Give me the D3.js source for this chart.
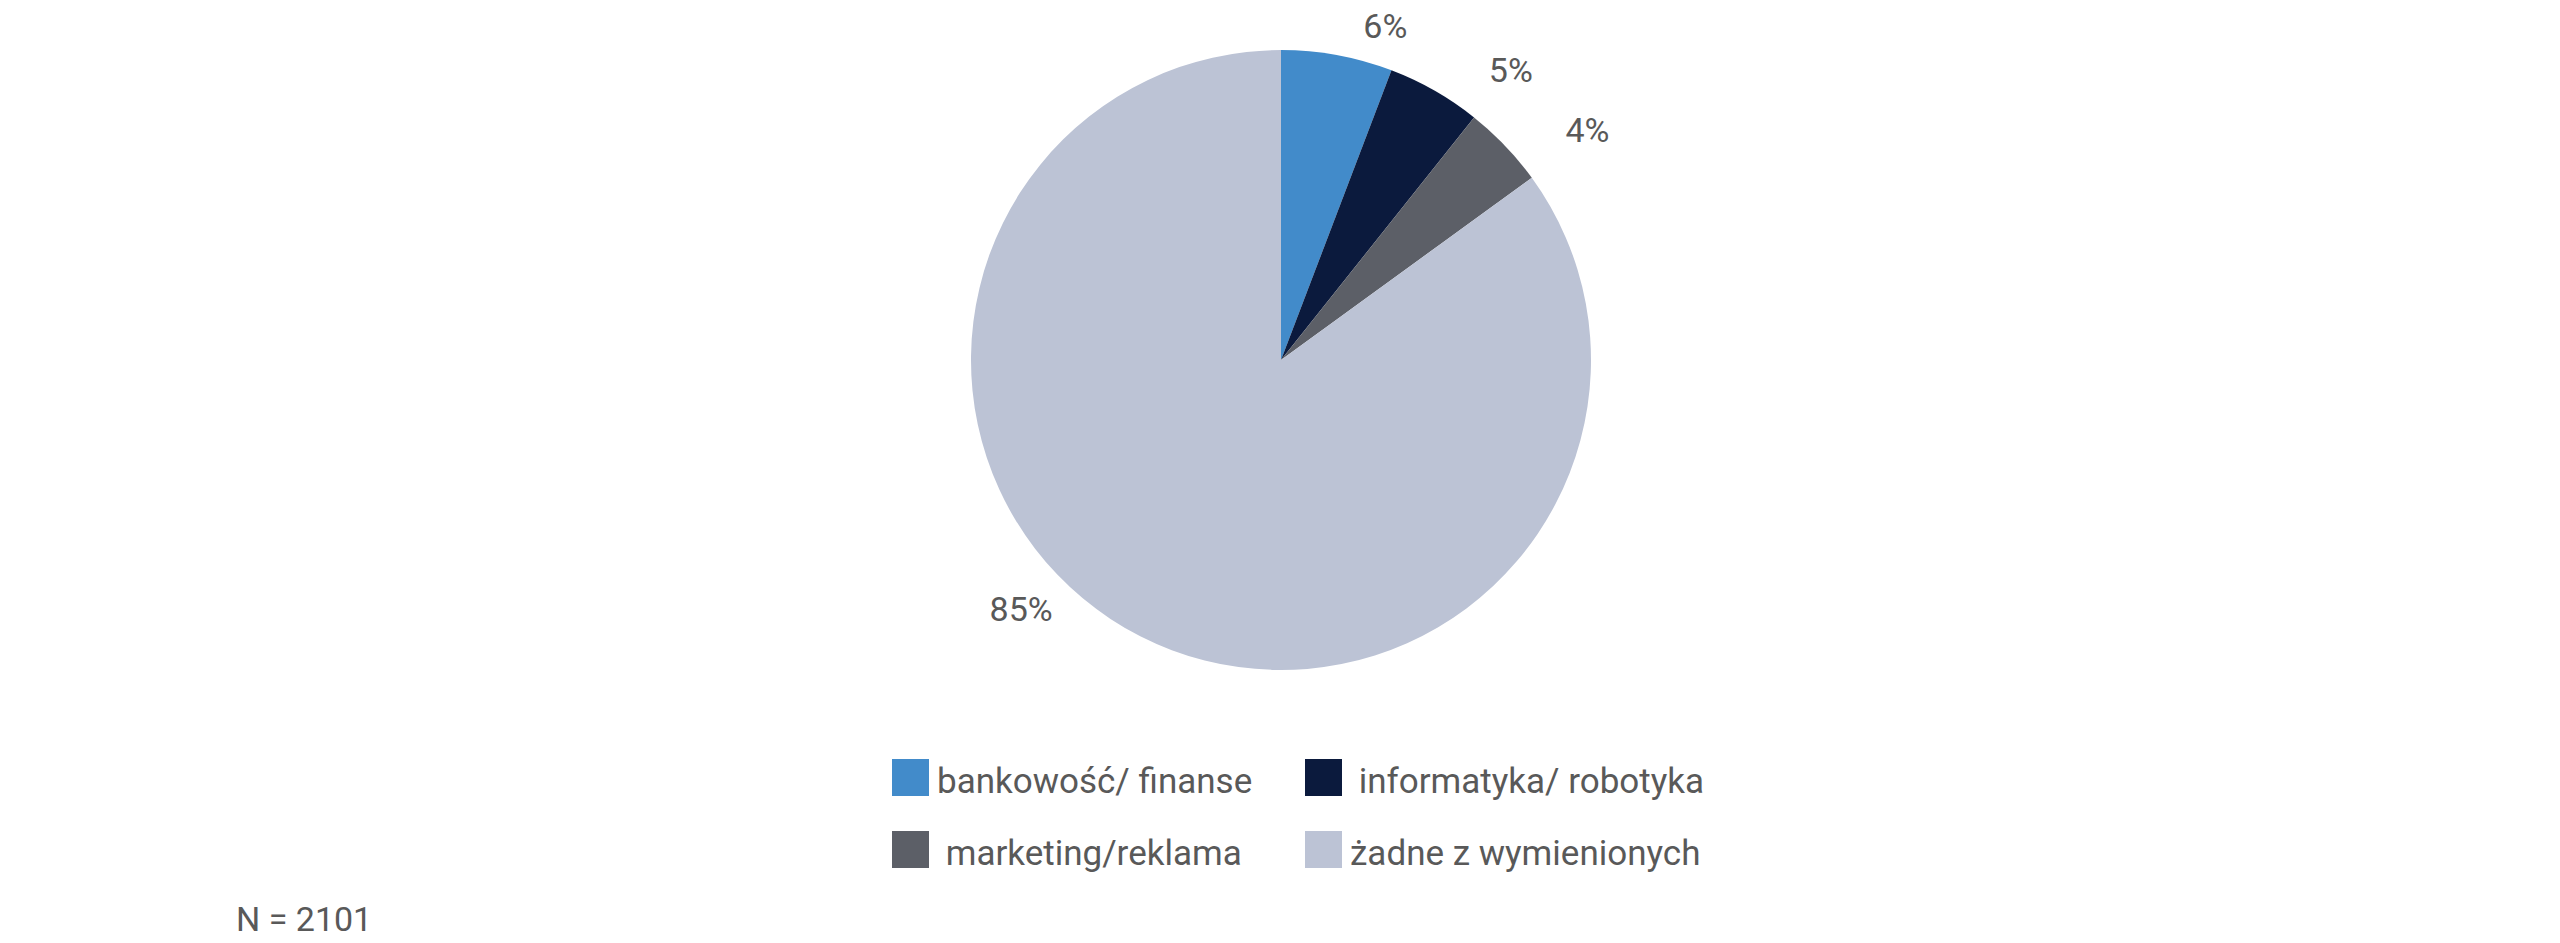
<!DOCTYPE html>
<html lang="pl">
<head>
<meta charset="utf-8">
<title>Branże</title>
<script src="https://cdn.jsdelivr.net/npm/d3@7"></script>
<style>
  html, body { margin: 0; padding: 0; background: #fff; }
  #chart-pie { width: 2560px; height: 943px; }
</style>
</head>
<body>
<div id="chart-pie"></div>
<script>
// ── Data ─────────────────────────────────────
const CATEGORIES = ["bankowość/ finanse", " informatyka/ robotyka", " marketing/reklama", "żadne z wymienionych"];
const SHARES     = [5.8, 4.9, 4.3, 85.0];
const COLORS     = ["#428BCA", "#0B1A3D", "#5C5F67", "#BCC3D5"];
const SAMPLE     = "N = 2101";

// legend order in the picture (row by row)
const LEGEND_ORDER = [0, 1, 2, 3];

(function () {

  const W = 2560, H = 943;
  const CX = 1281, CY = 360, R = 310;
  const FONT = "Roboto, 'Noto Sans', sans-serif";
  const TEXT = "#595959";

  // label nudges (angle shift in degrees, distance from centre) — hand placed like in the source
  const LABEL_POS = [[6.9, 350], [8.7, 370], [6.9, 383], [19.2, 360]];

  const data = CATEGORIES.map((c, i) => ({ name: c, value: SHARES[i], color: COLORS[i] }));

  const svg = d3.select("#chart-pie").append("svg")
    .attr("width", W).attr("height", H)
    .style("background", "#fff");

  // ── Pie ────────────────────────────────────
  const pie = d3.pie().sort(null).value(d => d.value);
  const arc = d3.arc().innerRadius(0).outerRadius(R);
  const arcs = pie(data);

  const g = svg.append("g").attr("transform", `translate(${CX},${CY})`);
  g.selectAll("path").data(arcs).join("path")
    .attr("d", arc)
    .attr("fill", d => d.data.color);

  // ── Percent labels ─────────────────────────
  const fmt = d3.format(".0f");
  g.selectAll("text.lbl").data(arcs).join("text")
    .attr("class", "lbl")
    .attr("x", (d, i) => {
      const a = (d.startAngle + d.endAngle) / 2 + LABEL_POS[i][0] * Math.PI / 180;
      return Math.sin(a) * LABEL_POS[i][1];
    })
    .attr("y", (d, i) => {
      const a = (d.startAngle + d.endAngle) / 2 + LABEL_POS[i][0] * Math.PI / 180;
      return -Math.cos(a) * LABEL_POS[i][1];
    })
    .attr("dy", "0.35em")
    .attr("text-anchor", "middle")
    .attr("font-family", FONT).attr("font-size", "34px").attr("fill", TEXT)
    .text(d => fmt(d.value) + "%");

  // ── Legend ─────────────────────────────────
  const LEG_X = 892, LEG_Y = 759, COL_W = 413, ROW_H = 72, SW = 37;
  const legend = svg.append("g").attr("transform", `translate(${LEG_X},${LEG_Y})`);
  LEGEND_ORDER.forEach((idx, i) => {
    const col = i % 2, row = Math.floor(i / 2);
    const item = legend.append("g")
      .attr("transform", `translate(${col * COL_W},${row * ROW_H})`);
    item.append("rect").attr("width", SW).attr("height", SW)
      .attr("fill", COLORS[idx]);
    item.append("text").attr("x", SW + 8).attr("y", SW / 2)
      .attr("dy", "0.44em")
      .attr("font-family", FONT).attr("font-size", "35px").attr("fill", TEXT)
      .style("white-space", "pre")
      .text(CATEGORIES[idx]);
  });

  // ── Sample size ────────────────────────────
  svg.append("text").attr("x", 236).attr("y", 931)
    .attr("font-family", FONT).attr("font-size", "34px").attr("fill", TEXT)
    .text(SAMPLE);

})();
</script>
</body>
</html>
